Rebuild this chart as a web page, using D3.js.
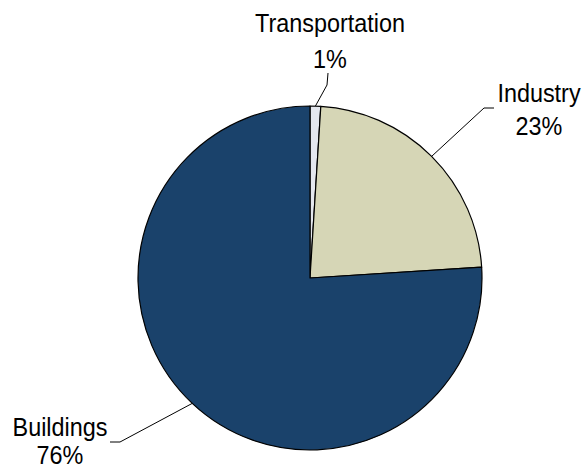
<!DOCTYPE html>
<html>
<head>
<meta charset="utf-8">
<script src="https://cdn.jsdelivr.net/npm/d3@7"></script>
<style>
  html, body { margin: 0; padding: 0; background: #fff; }
  svg { display: block; }
  text { font-family: "Liberation Sans", Arial, sans-serif; fill: #000; }
</style>
</head>
<body>
<svg id="chart" width="585" height="470"></svg>
<script>
// Share of final energy use by sector
const sectors = ["Transportation", "Industry", "Buildings"];
const shares = [1, 23, 76];
const colors = ["#e4e7ee", "#d6d6b6", "#1a426b"];

const svg = d3.select("#chart");
const cx = 310, cy = 278, r = 172;

const pie = d3.pie().sort(null).value(d => d.value);
const arcs = pie(sectors.map((s, i) => ({ name: s, value: shares[i], color: colors[i] })));
const arc = d3.arc().innerRadius(0).outerRadius(r);

const g = svg.append("g").attr("transform", `translate(${cx},${cy})`);
g.selectAll("path")
  .data(arcs)
  .enter().append("path")
  .attr("d", arc)
  .attr("fill", d => d.data.color)
  .attr("stroke", "#000")
  .attr("stroke-width", 1.2)
  .attr("stroke-linejoin", "round");

// Label layout: leader line bend/end points, text centre and the two baselines
const labelLayout = {
  Transportation: { bend: [327, 85], end: [328, 73], tx: 330, y1: 31.5, y2: 68 },
  Industry:       { bend: [484, 108], end: [494, 108], tx: 539, y1: 101.5, y2: 135 },
  Buildings:      { bend: [120, 442], end: [110, 442], tx: 60, y1: 435.5, y2: 464 }
};

arcs.forEach(d => {
  const L = labelLayout[d.data.name];
  const mid = (d.startAngle + d.endAngle) / 2;
  const p0 = [cx + Math.sin(mid) * r, cy - Math.cos(mid) * r];
  svg.append("polyline")
    .attr("points", [p0, L.bend, L.end].map(p => p.join(",")).join(" "))
    .attr("fill", "none")
    .attr("stroke", "#000")
    .attr("stroke-width", 1);
  [[d.data.name, L.y1], [d.data.value + "%", L.y2]].forEach(([txt, y]) => {
    svg.append("text")
      .attr("text-anchor", "middle")
      .attr("font-size", 26)
      .attr("transform", `translate(${L.tx},${y}) scale(0.9,1)`)
      .text(txt);
  });
});
</script>
</body>
</html>
